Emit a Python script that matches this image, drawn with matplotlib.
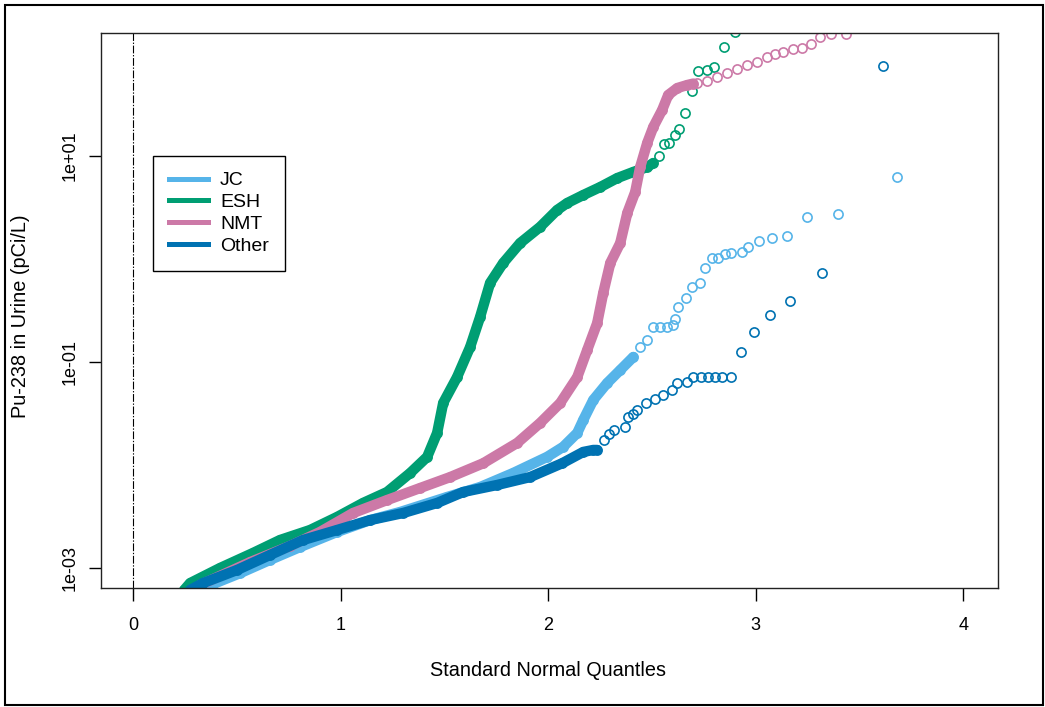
import matplotlib.pyplot as plt
from matplotlib.lines import Line2D
from matplotlib.patches import Rectangle
import numpy as np

plt.rcParams['font.family'] = ['Liberation Sans', 'DejaVu Sans']

# normal quantiles and measured Pu-238 (pCi/L) per source group
jc_q = [0.299, 0.386, 0.516, 0.660, 0.805, 0.983, 1.142, 1.287, 1.513, 1.672,
        1.831, 1.995, 2.072, 2.140, 2.169, 2.217, 2.284, 2.347, 2.410, 2.443, 2.477,
        2.506, 2.540, 2.573, 2.602, 2.612, 2.627, 2.665, 2.694, 2.733, 2.757,
        2.790, 2.819, 2.853, 2.882, 2.935, 2.964, 3.017, 3.080, 3.152, 3.248,
        3.398, 3.682]
jc_v = [6.11e-4, 7.0e-4, 8.93e-4, 1.20e-3, 1.60e-3, 2.24e-3, 2.92e-3, 3.50e-3, 4.89e-3, 6.11e-3,
        8.36e-3, 1.20e-2, 1.50e-2, 2.05e-2, 2.74e-2, 4.28e-2, 6.25e-2, 8.36e-2, 0.112, 0.140, 0.164,
        0.219, 0.219, 0.219, 0.229, 0.261, 0.342, 0.418, 0.535, 0.585, 0.818,
        1.02, 1.02, 1.12, 1.14, 1.17, 1.31, 1.50, 1.60, 1.67, 2.56,
        2.74, 6.25]

esh_q = [0.246, 0.275, 0.419, 0.578, 0.708, 0.853, 0.983, 1.108, 1.224, 1.335,
         1.417, 1.465, 1.494, 1.561, 1.624, 1.672, 1.720, 1.783, 1.865, 1.961,
         2.043, 2.092, 2.169, 2.251, 2.333, 2.410, 2.477, 2.506,
         2.535, 2.559, 2.583, 2.612, 2.631, 2.660, 2.694, 2.723, 2.766, 2.800,
         2.848, 2.901]
esh_v = [6.11e-4, 7.14e-4, 1.0e-3, 1.40e-3, 1.87e-3, 2.34e-3, 3.13e-3, 4.28e-3, 5.47e-3, 8.36e-3,
         1.20e-2, 2.05e-2, 4.00e-2, 7.14e-2, 0.140, 0.274, 0.585, 0.914, 1.43, 2.05,
         2.99, 3.50, 4.18, 5.00, 6.11, 7.00, 7.82, 8.55,
         10.0, 13.1, 13.4, 16.0, 18.3, 26.1, 42.8, 66.8, 68.4, 73.1,
         114, 160]

nmt_q = [0.323, 0.564, 0.757, 0.901, 1.060, 1.224, 1.383, 1.528, 1.687, 1.851,
         1.961, 2.058, 2.140, 2.188, 2.236, 2.265, 2.299, 2.347, 2.381, 2.419,
         2.443, 2.477, 2.506, 2.549, 2.578, 2.622, 2.670, 2.699,
         2.718, 2.766, 2.814, 2.863, 2.911, 2.959, 3.007, 3.055, 3.094, 3.133,
         3.181, 3.224, 3.267, 3.311, 3.364, 3.436]
nmt_v = [6.84e-4, 1.14e-3, 1.64e-3, 2.24e-3, 3.42e-3, 4.57e-3, 5.98e-3, 7.64e-3, 1.04e-2, 1.64e-2,
         2.56e-2, 4.00e-2, 7.14e-2, 0.131, 0.239, 0.468, 0.914, 1.43, 2.80, 4.47,
         7.82, 13.4, 19.1, 28.0, 39.1, 45.7, 48.9, 50.5,
         51.2, 53.5, 58.5, 64.0, 70.0, 76.4, 81.8, 91.4, 97.8, 102,
         109, 112, 122, 143, 153, 153]

oth_q = [0.275, 0.337, 0.501, 0.660, 0.819, 0.983, 1.142, 1.301, 1.465, 1.590,
         1.754, 1.913, 2.067, 2.169, 2.217, 2.236,
         2.270, 2.294, 2.318, 2.371, 2.386, 2.410, 2.429, 2.472, 2.516, 2.554, 2.598, 2.622,
         2.670, 2.699, 2.737, 2.771, 2.805, 2.839, 2.882, 2.930, 2.993, 3.070,
         3.166, 3.320, 3.614]
oth_v = [6.11e-4, 7.14e-4, 9.57e-4, 1.34e-3, 1.87e-3, 2.34e-3, 2.92e-3, 3.42e-3, 4.28e-3, 5.47e-3,
         6.40e-3, 7.64e-3, 1.04e-2, 1.34e-2, 1.40e-2, 1.40e-2,
         1.75e-2, 2.00e-2, 2.19e-2, 2.34e-2, 2.92e-2, 3.10e-2, 3.42e-2, 4.00e-2, 4.38e-2, 4.79e-2, 5.35e-2, 6.25e-2,
         6.40e-2, 7.14e-2, 7.14e-2, 7.14e-2, 7.14e-2, 7.14e-2, 7.14e-2, 0.125, 0.195, 0.286,
         0.391, 0.731, 74.8]

labels = ["JC", "ESH", "NMT", "Other"]
colors = ["#56B4E9", "#009E73", "#CC79A7", "#0072B2"]
# points below this quantile are packed so tight they read as a solid band
band_end = [2.41, 2.51, 2.70, 2.24]

fig = plt.figure(figsize=(10.45, 7.07), dpi=100)
ax = fig.add_axes([0.0967, 0.1683, 0.8584, 0.785])

ax.axvline(0, color="black", lw=0.8, ls=(0, (7, 1.5, 1.2, 1.5)), zorder=1)

data = [(jc_q, jc_v), (esh_q, esh_v), (nmt_q, nmt_v), (oth_q, oth_v)]
for (q, v), col, qb in zip(data, colors, band_end):
    q = np.asarray(q)
    v = np.asarray(v)
    m = q <= qb
    ax.plot(q[m], v[m], color=col, lw=7.5, solid_capstyle="round",
            solid_joinstyle="round", zorder=2)
    ax.plot(q, v, "o", mfc="none", mec=col, ms=6.6, mew=1.2, zorder=2)

ax.set_yscale("log")
ax.set_xlim(-0.154, 4.167)
ax.set_ylim(10 ** -3.194, 10 ** 2.194)
ax.set_xticks([0, 1, 2, 3, 4])
ax.set_xticklabels(["0", "1", "2", "3", "4"])
ax.set_yticks([1e-3, 1e-1, 1e1])
ax.set_yticklabels(["1e-03", "1e-01", "1e+01"], rotation=90, va="center")
ax.minorticks_off()
ax.tick_params(axis="both", length=9, width=1.0, labelsize=13, color="black")
ax.tick_params(axis="x", pad=12)
ax.tick_params(axis="y", pad=7)
for sp in ax.spines.values():
    sp.set_linewidth(1.0)
    sp.set_color("#222222")

fig.text(548 / 1045, 1 - 671 / 707, "Standard Normal Quantles", ha="center", va="center", fontsize=14.3)
fig.text(21 / 1045, 1 - 316 / 707, "Pu-238 in Urine (pCi/L)", ha="center", va="center",
         rotation=90, fontsize=14.3)

handles = [Line2D([], [], color=c, lw=3.6) for c in colors]
leg = ax.legend(handles, labels, loc="upper left", bbox_to_anchor=(0.058, 0.778),
                borderaxespad=0, fancybox=False, edgecolor="black", framealpha=1,
                fontsize=14, handlelength=2.0, handletextpad=0.65, borderpad=0.8,
                labelspacing=0.22)
leg.get_frame().set_linewidth(1.0)

# frame around the whole figure
fig.add_artist(Rectangle((5 / 1045, 2 / 707), 1038 / 1045, 700 / 707, transform=fig.transFigure,
                         fill=False, edgecolor="black", lw=1.5))

fig.savefig("out.png", dpi=100)
